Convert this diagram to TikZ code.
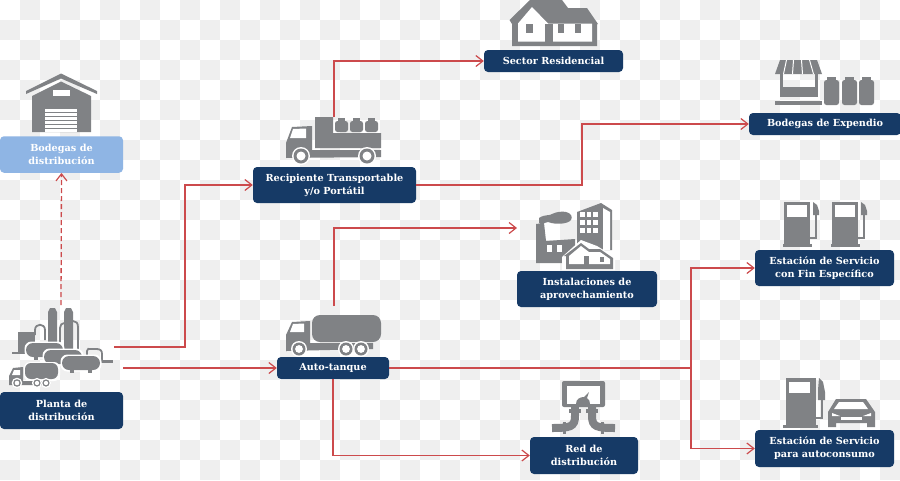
\documentclass[tikz,border=0pt]{standalone}
\usepackage{fontspec}
\setmainfont{DejaVu Serif}
\usetikzlibrary{arrows.meta}
\definecolor{navy}{HTML}{163A66}
\definecolor{sky}{HTML}{8FB5E4}
\definecolor{ico}{HTML}{808285}
\definecolor{wire}{HTML}{CC4A4C}
\definecolor{chk}{HTML}{EFEFEF}
\tikzset{
  label box/.style={rectangle,rounded corners=4pt,fill=navy,text=white,inner sep=0pt,align=center,
     font=\fontsize{9.7}{13}\selectfont\bfseries},
  light box/.style={label box,fill=sky},
  wirepath/.style={draw=wire,line width=1.3pt,-{Straight Barb[length=7pt,width=11pt,line width=1.2pt]}},
  wireplain/.style={draw=wire,line width=1.3pt},
  icon/.style={fill=ico,draw=none},
  hole/.style={fill=white,draw=none},
  pipe/.style={draw=ico,line width=1.8pt,fill=none},
  fatpipe/.style={draw=ico,line width=8pt,fill=none},
}
\newcommand{\GasWheel}[3]{\fill[hole] (#1,#2) circle ({#3+1.5});\fill[icon] (#1,#2) circle (#3);\fill[hole] (#1,#2) circle ({#3*0.6});}
\newcommand{\GasCyl}[4]{% x y width height
  \fill[icon,rounded corners=2.5pt] (#1,#2+3) rectangle ++(#3,#4-3);
  \fill[icon] (#1+#3*0.2,#2) rectangle ++(#3*0.6,4);}
\newcommand{\GasTank}[4]{% x y w h
  \fill[hole,rounded corners=#4*0.5pt] (#1-1.5,#2-1.5) rectangle ++(#3+3,#4+3);
  \fill[icon,rounded corners=#4*0.5pt] (#1,#2) rectangle ++(#3,#4);
  \fill[icon] (#1+#3*0.22,#2+#4-1) rectangle ++(4,4);
  \fill[icon] (#1+#3*0.68,#2+#4-1) rectangle ++(4,4);}
\newcommand{\GasPump}[1]{\begin{scope}[shift={(#1,0)}]
  \fill[icon] (784,202) rectangle (810,247);
  \fill[icon] (783,244) rectangle (812,247);
  \fill[hole] (787,205) rectangle (807,217);
  \draw[draw=ico,line width=1.6pt,fill=none] (810,238) -- (816,238) -- (816,214);
  \fill[icon] (813,202) -- (817,205) -- (819,211) -- (819,215) -- (813,215) -- cycle;
  \end{scope}}
\begin{document}
\begin{tikzpicture}[x=1pt,y=-1pt]
\useasboundingbox (0,0) rectangle (900,480);
\fill[white] (0,0) rectangle (900,480);
\foreach \i in {0,...,44}{\foreach \j in {0,...,23}{
  \pgfmathtruncatemacro\p{mod(\i+\j,2)}
  \ifnum\p=1 \fill[chk] (\i*20,\j*20) rectangle ++(20,20);\fi}}

% ---- warehouse
\fill[icon] (26,91) -- (61,73.5) -- (97,91) -- (97,94) -- (61,78.5) -- (26,94) -- cycle;
\fill[icon] (32,96) -- (61,81.5) -- (91,96) -- (91,132) -- (32,132) -- cycle;
\fill[hole] (53,90) rectangle (70,95.5);
\fill[hole] (45,109) rectangle (77,132);
\foreach \s in {112,116,120,124,128}{\fill[icon] (45,\s) rectangle (77,\s+1);}

% ---- plant
\fill[icon] (18,332) rectangle (35,353);
\fill[icon] (48,312) -- (50,308) -- (55,308) -- (57,312) -- (57,345) -- (48,345) -- cycle;
\fill[icon] (64,312) -- (66,308) -- (71,308) -- (73,312) -- (73,350) -- (64,350) -- cycle;
\draw[pipe] (35,335) -- (35,330) .. controls (35,323) and (45,323) .. (45,330) -- (45,340);
\draw[pipe] (60,345) -- (60,328) .. controls (60,325) and (62,323) .. (64,323);
\draw[pipe] (73,321) .. controls (76,321) and (78,323) .. (78,327) -- (78,350);
\fill[icon] (12,352) rectangle (30,354);
\fill[icon] (98,360) rectangle (113,362.5);
\draw[pipe] (87,355) -- (87,351) .. controls (87,348) and (89,349) .. (91,349) -- (96,349) .. controls (100,349) and (102,350) .. (102,354) -- (102,361);
\GasTank{26}{343}{37}{14}
\GasTank{44}{350}{38}{14}
\GasTank{62}{356}{38}{14}
% small tanker
\fill[hole,rounded corners=6pt] (24,362) rectangle (60,381);
\fill[icon,rounded corners=6pt] (25,363) rectangle (58,379);
\fill[icon] (9,385) -- (9,376) -- (13,368) -- (23,367) -- (23,381) -- (50,381) -- (50,385) -- cycle;
\fill[hole] (14,370) -- (20,370) -- (20,375) -- (12,375) -- cycle;
\GasWheel{17}{383}{3.8}\GasWheel{37}{383}{3.6}\GasWheel{46}{383}{3.6}

% ---- cylinder truck
\fill[icon] (315,117) -- (333,117) -- (333,133) -- (381,133) -- (381,148) -- (315,148) -- cycle;
\GasCyl{335}{118}{13}{14}\GasCyl{350}{118}{13}{14}\GasCyl{365}{118}{13}{14}
\fill[icon] (286,158) -- (286,143) -- (292,127) -- (312,126) -- (312,150) -- (381,150) -- (381,157) -- (286,158) -- cycle;
\fill[hole] (293,129) -- (306,128.5) -- (306,138) -- (290,138) -- cycle;
\GasWheel{301}{156}{7.5}\GasWheel{367}{156}{7.5}

% ---- tanker
\fill[icon,rounded corners=8pt] (312,315) rectangle (381,342);
\fill[icon] (286,352) -- (286,335) -- (292,322) -- (310,321) -- (310,343) -- (373,343) -- (373,349) -- (286,351) -- cycle;
\fill[hole] (293,324) -- (304,323.5) -- (304,332) -- (290,332) -- cycle;
\GasWheel{299}{349}{6.5}\GasWheel{346}{349}{6.5}\GasWheel{361}{349}{6.5}

% ---- house
\fill[icon] (509.5,20) -- (530,0) -- (562,0) -- (568,8) -- (587,8) -- (598,24) -- (597,24) -- (597,46) -- (512,46) -- (512,24) -- cycle;
\fill[hole] (518,23.5) -- (532,7) -- (548,23.5) -- (592,23.5) -- (592,41.7) -- (518,41.7) -- cycle;
\fill[icon] (526,23.5) rectangle (533,33);
\fill[icon] (545,23.5) rectangle (553,42);
\fill[icon] (558,23.5) rectangle (564,33);
\fill[icon] (575,23.5) rectangle (581,33);

% ---- factory
\fill[icon] (539,223) -- (539,218) .. controls (545,214) and (550,216) .. (552,214) .. controls (556,212) and (562,211) .. (566,212) .. controls (571,213) and (573,217) .. (571,220) .. controls (568,224) and (556,225) .. (548,222) -- (541,224) -- cycle;
\fill[icon] (536,224) -- (544,223) -- (546,241) -- (575,239) -- (575,263) -- (536,263) -- cycle;
\fill[hole] (547,245) rectangle (552,252);
\fill[hole] (557,245) rectangle (562,252);
\fill[icon] (577,212) -- (601,203) -- (612,210) -- (612,250) -- (577,250) -- cycle;
\fill[hole] (603,208) -- (610,212) -- (610,250) -- (603,250) -- cycle;
\foreach \a in {580,586.5,593}{\foreach \b in {212,220,228}{\fill[hole] (\a,\b) rectangle ++(4.5,5);}}
\fill[hole] (562,257) -- (581,240) -- (597,246) -- (615,257) -- (615,270) -- (562,270) -- cycle;
\fill[icon] (564,256) -- (581,243) -- (589,249) -- (600,249) -- (613,258) -- (613,269) -- (566,269) -- (566,256) -- cycle;
\fill[hole] (569,256) -- (581,246) -- (589,252) -- (600,252) -- (610,259) -- (610,264) -- (569,264) -- cycle;
\fill[icon] (584,256) rectangle (589,265);
\fill[icon] (600,257) rectangle (604,262);

% ---- network
\fill[icon,rounded corners=2pt] (562,381) rectangle (605,407);
\fill[hole] (567,386) rectangle (600,404);
\fill[icon] (576,404) .. controls (576,399) and (580,397) .. (584,397) -- (589,392) -- (587,398) .. controls (589,399) and (590,401) .. (590,404) -- cycle;
\draw[fatpipe] (575,407) -- (575,416) .. controls (575,427) and (570,428) .. (552,428);
\draw[fatpipe] (592,407) -- (592,416) .. controls (592,427) and (597,428) .. (615,428);
\fill[icon] (569,409) rectangle (581,413);\fill[icon] (586,409) rectangle (598,413);
\fill[icon] (563,422) rectangle (566,434);\fill[icon] (601,422) rectangle (604,434);

% ---- store
\fill[icon] (780,60) -- (817,60) -- (822,74) -- (775,74) -- cycle;
\foreach \a/\b in {786/783,793/792,801/802,809/813}{\fill[hole] (\a,60) -- (\a+1,60) -- (\b+1,74) -- (\b,74) -- cycle;}
\fill[icon] (780,74) rectangle (783,90);\fill[icon] (815,74) rectangle (818,90);
\fill[icon] (780,87) rectangle (818,97);
\fill[icon] (775,101) rectangle (822,105);
\GasCyl{824}{77}{15}{28}\GasCyl{842}{77}{15}{28}\GasCyl{859}{77}{15}{28}

% ---- pumps
\GasPump{0}\GasPump{48}
\fill[icon] (786,378) rectangle (816,425);
\fill[icon] (783,425) rectangle (818,428);
\fill[hole] (789,382) rectangle (810,393);
\draw[draw=ico,line width=1.6pt,fill=none] (816,418) -- (822,418) -- (822,398);
\fill[icon] (819,378) -- (823,382) -- (825,392) -- (825,400) -- (818,400) -- (818,390) -- cycle;
\fill[icon] (828,427) -- (828,412) -- (836,399) -- (866,399) -- (875,412) -- (875,427) -- (867,427) -- (867,423) -- (836,423) -- (836,427) -- cycle;
\fill[hole] (839,402) -- (863,402) -- (868,409) -- (834,409) -- cycle;
\fill[hole] (832,413) -- (840,416) -- (832,416) -- cycle;
\fill[hole] (871,413) -- (863,416) -- (871,416) -- cycle;
\fill[hole] (841,417) rectangle (862,420);

% ---- label nodes
\node[light box,minimum width=123pt,minimum height=36.5pt] (bodDist) at (61.5,154.5) {Bodegas de\\distribución};
\node[label box,minimum width=123pt,minimum height=37pt] (planta) at (61.5,410.5) {Planta de\\distribución};
\node[label box,minimum width=163pt,minimum height=36pt] (recip) at (334.5,185) {Recipiente Transportable\\y/o Portátil};
\node[label box,minimum width=112pt,minimum height=22pt] (auto) at (333,368) {Auto-tanque};
\node[label box,minimum width=139pt,minimum height=22pt] (sector) at (553.5,61) {Sector Residencial};
\node[label box,minimum width=140pt,minimum height=36pt] (inst) at (587,289) {Instalaciones de\\aprovechamiento};
\node[label box,minimum width=108pt,minimum height=37pt] (red) at (584,455.5) {Red de\\distribución};
\node[label box,minimum width=152pt,minimum height=22pt] (expend) at (825,124) {Bodegas de Expendio};
\node[label box,minimum width=139pt,minimum height=36pt] (fin) at (824.5,268) {Estación de Servicio\\con Fin Específico};
\node[label box,minimum width=139pt,minimum height=37pt] (consumo) at (824.5,448.5) {Estación de Servicio\\para autoconsumo};

% ---- free ends
\coordinate (plantTop) at (61,305);
\coordinate (plantA) at (114,347);
\coordinate (plantB) at (123,368);
\coordinate (truckTop) at (334,117);
\coordinate (tankTop) at (334,306);
\coordinate (instIn) at (517,228);
\coordinate (split) at (691,368);
\coordinate (midA) at (185,347);
\coordinate (midB) at (582,185);

% ---- connectors
\draw[wirepath,dash pattern=on 5pt off 3pt] (plantTop) -- (bodDist.south);
\draw[wirepath] (plantA) -- (midA) |- (recip.west);
\draw[wirepath] (plantB) -- (auto.west);
\draw[wirepath] (truckTop) |- (sector.west);
\draw[wirepath] (recip.east) -- (midB) |- (expend.west);
\draw[wirepath] (tankTop) |- (instIn);
\draw[wireplain] (auto.east) -- (split);
\draw[wirepath] (split) |- (fin.west);
\draw[wirepath] (split) |- (consumo.west);
\draw[wirepath] (auto.south) |- (red.west);
\end{tikzpicture}
\end{document}
